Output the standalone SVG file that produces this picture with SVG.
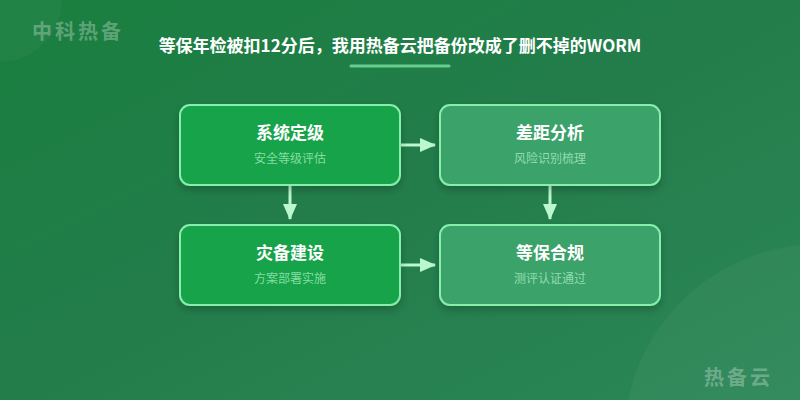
<svg xmlns="http://www.w3.org/2000/svg" width="800" height="400" viewBox="0 0 800 400">
<defs>
<linearGradient id="bg" x1="0" y1="0" x2="1" y2="1">
<stop offset="0" stop-color="#1a7f3f"/>
<stop offset="0.5" stop-color="#237d4b"/>
<stop offset="1" stop-color="#2c8757"/>
</linearGradient>
<filter id="sh" x="-20%" y="-20%" width="140%" height="150%">
<feDropShadow dx="0" dy="4" stdDeviation="4" flood-color="#000" flood-opacity="0.22"/>
</filter>
<marker id="ah" viewBox="0 0 16 14" refX="15" refY="7" markerWidth="16" markerHeight="14" markerUnits="userSpaceOnUse" orient="auto">
<path d="M0,0 L16,7 L0,14 Z" fill="#bbf7d0"/>
</marker>
</defs>
<style>
.t{font-family:"Noto Sans CJK SC","Noto Sans",sans-serif;text-anchor:middle}
.nt{font-size:17px;font-weight:700;fill:#ffffff}
.ns{font-size:12px;fill:#bbf7d0;fill-opacity:0.7}
.box{stroke:#86efac;stroke-width:2;filter:url(#sh)}
.a{fill:#16a34a}
.b{fill:#3aa26b}
.wm{font-family:"Noto Sans CJK SC","Noto Sans",sans-serif;font-size:20px;font-weight:700;fill:#ffffff;fill-opacity:0.3;letter-spacing:3px}
.c{stroke:#bbf7d0;stroke-width:3;fill:none;marker-end:url(#ah)}
</style>
<rect width="800" height="400" fill="url(#bg)"/>
<circle cx="0" cy="0" r="62" fill="#ffffff" fill-opacity="0.03"/>
<circle cx="820" cy="440" r="196" fill="#ffffff" fill-opacity="0.04"/>
<text class="wm" x="32" y="39">中科热备</text>
<text class="wm" x="704" y="385">热备云</text>
<text class="t" x="400" y="52" font-size="17" font-weight="700" fill="#ffffff">等保年检被扣12分后，我用热备云把备份改成了删不掉的WORM</text>
<line x1="351" y1="66" x2="449" y2="66" stroke="#86efac" stroke-opacity="0.7" stroke-width="3" stroke-linecap="round"/>
<g id="connectors">
<line class="c" x1="401" y1="145" x2="435" y2="145"/>
<line class="c" x1="290" y1="186" x2="290" y2="219"/>
<line class="c" x1="550" y1="186" x2="550" y2="219"/>
<line class="c" x1="401" y1="265" x2="435" y2="265"/>
</g>
<g id="n1">
<rect class="box a" x="180" y="105" width="220" height="80" rx="10"/>
<text class="t nt" x="290" y="139">系统定级</text>
<text class="t ns" x="290" y="163">安全等级评估</text>
</g>
<g id="n2">
<rect class="box b" x="440" y="105" width="220" height="80" rx="10"/>
<text class="t nt" x="550" y="139">差距分析</text>
<text class="t ns" x="550" y="163">风险识别梳理</text>
</g>
<g id="n3">
<rect class="box a" x="180" y="225" width="220" height="80" rx="10"/>
<text class="t nt" x="290" y="259">灾备建设</text>
<text class="t ns" x="290" y="283">方案部署实施</text>
</g>
<g id="n4">
<rect class="box b" x="440" y="225" width="220" height="80" rx="10"/>
<text class="t nt" x="550" y="259">等保合规</text>
<text class="t ns" x="550" y="283">测评认证通过</text>
</g>
</svg>
